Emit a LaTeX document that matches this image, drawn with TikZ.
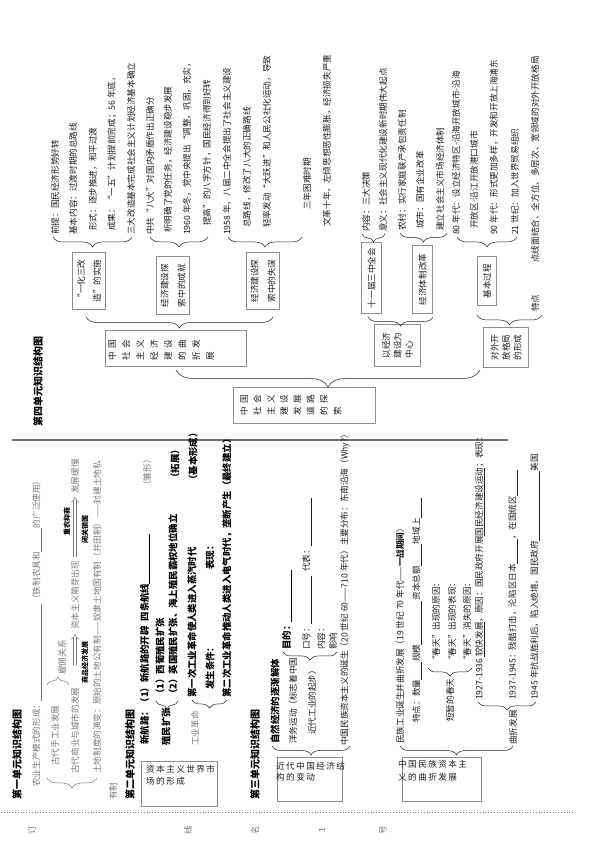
\documentclass[tikz,border=0pt]{standalone}
\usepackage{fontspec}
\setmainfont{Noto Sans CJK SC}
\usetikzlibrary{decorations.pathreplacing, arrows.meta}
\definecolor{Ink}{HTML}{1E1E1E}
\definecolor{Pale}{HTML}{7A7A7A}
\definecolor{Frame}{HTML}{8E8E8E}
\definecolor{Rule}{HTML}{6E6E6E}
\newcommand{\ls}{\hspace{4pt}}
\tikzset{
    txt/.style={anchor=west, inner sep=0pt, text=Ink, font=\fontsize{8.6}{10}\selectfont},
    pale/.style={txt, text=Pale},
    bold/.style={txt, text=black, font=\fontsize{9.4}{11}\selectfont\bfseries},
    head/.style={txt, text=black, font=\fontsize{10}{12}\selectfont\bfseries},
    tag/.style={inner sep=0pt, text=black, font=\fontsize{7}{8}\selectfont\bfseries},
    box/.style={rectangle, draw=Frame, line width=0.8pt, inner sep=0pt, text=Ink, align=left, font=\fontsize{8.6}{#1}\selectfont},
    box/.default=12,
    boxtext/.style={anchor=north west, inner sep=0pt, align=left, text=Ink, font=\fontsize{8.6}{#1}\selectfont},
    flat/.style={boxtext=#1, rotate=-90},
    curly/.style={decorate, decoration={brace, amplitude=#1}, draw=Ink, line width=0.5pt},
    hollow/.style={draw=Pale, line width=0.5pt, double=white, double distance=2.4pt, -{Implies}},
}

\begin{document}
\begin{tikzpicture}[x=1pt, y=1pt, rotate=90, transform shape]
    \fill[white] (0,0) rectangle (850,600);
    \useasboundingbox (0,0) rectangle (850,600);

    % Margine di rilegatura e divisorio
    \draw[Pale, dotted, line width=0.8pt] (38,27) -- (38,600);
    \foreach \c/\h in {订/568, 线/412, 名/345, 1/278, 号/217}
        \node[pale, anchor=center] at (20,\h) {\c};
    \draw[Rule, line width=1.6pt] (410,92) -- (410,588);

    % Unit 1
    \node[head] (h1) at (50,583) {第一单元知识结构图};
    \node[pale] (p1) at (63,563) {农业生产模式的形成：\underline{\hspace{97pt}}（铁制农具和\underline{\hspace{24pt}}的广泛使用）};
    \draw[curly=10pt, draw=Pale] (72,503) -- (72,553);
    \node[pale] (p2) at (84,545) {古代手工业发展};
    \node[pale] (p3) at (76,525) {古代商业与城市的发展};
    \draw[curly=8pt, draw=Pale] (165,553) -- (165,531);
    \node[pale] (hire) at (175,538) {雇佣关系};
    \node[pale] (sprout) at (220,525) {资本主义萌芽出现};
    \node[pale] (slow) at (356,525) {发展缓慢};
    \draw[hollow, shorten <=23pt, shorten >=4pt] (p3.east) -- (sprout.west);
    \draw[hollow, shorten <=4pt, shorten >=3pt] (sprout.east) -- (slow.west);
    \node[tag] (goods) at (187,515) {商品经济发展};
    \node[tag] (agri) at (328,533) {重农抑商};
    \node[tag] (seal) at (320,515) {闭关锁国};
    \node[pale] (p4) at (76,503) {土地制度的演变：原始的土地公有制——奴隶土地国有制（井田制）——封建土地私};
    \node[pale] (p5) at (50,487) {有制};

    % Unit 2
    \node[head] (h2) at (50,470) {第二单元知识结构图};
    \node[box, minimum width=45pt, minimum height=76pt, anchor=south west] (market) at (43,382) {};
    \node[flat=12] (marketT) at (85,454) {资\,本\,主\,义\,世\,界\,市\\场\,的\,形\,成};
    \node[bold] (g1) at (105,455) {新航路：（1）新航路的开辟\hspace{5pt}四条航线\underline{\hspace{50pt}}};
    \node[pale] (g1x) at (360,453) {（雏形）};
    \node[bold] (g2) at (104,434) {殖民扩张};
    \draw[curly=8pt] (149,422) -- (149,444);
    \node[bold] (g3) at (151,440) {（1）西葡殖民扩张};
    \node[bold] (g4) at (151,427) {（2）英国殖民扩张、海上殖民霸权地位确立};
    \node[bold] (g4x) at (367,425) {（拓展）};
    \node[pale] (g5) at (104,405) {工业革命};
    \draw[curly=8pt] (150,373) -- (150,408);
    \node[bold] (g6) at (152,408) {第一次工业革命使人类进入蒸汽时代};
    \node[bold] (g6x) at (365,407) {（基本形成）};
    \node[bold] (g7) at (160,390) {发生条件：};
    \node[bold] (g7x) at (280,390) {表现：};
    \node[bold] (g8) at (152,373) {第二次工业革命推动人类进入电气时代，垄断产生（最终建立）};

    % Unit 3
    \node[head] (h3) at (50,345) {第三单元知识结构图};
    \node[box, minimum width=44pt, minimum height=65pt, anchor=south west] (shift) at (48,257) {};
    \node[flat=11] (shiftT) at (88,324) {近\,代\,中\,国\,经\,济\,结\\构\,的\,变\,动};
    \draw[curly=9pt] (104,250) -- (104,328);
    \node[bold] (k1) at (106,325) {自然经济的逐渐解体};
    \node[txt] (k2) at (106,307) {洋务运动（标志着中国};
    \node[txt] (k3) at (115,288) {近代工业的起步）};
    \draw[curly=8pt] (198,263) -- (198,317);
    \node[bold] (k4) at (200,313) {目的：\underline{\hspace{52pt}}};
    \node[txt] (k5) at (200,293) {口号：\underline{\hspace{48pt}}\hspace{4pt}代表：\underline{\hspace{48pt}}};
    \node[txt] (k6) at (200,279) {内容：};
    \node[txt] (k7) at (200,267) {影响};
    \node[txt] (k8) at (104,255) {中国民族资本主义的诞生（20 世纪 60——710 年代）主要分布：东南沿海（Why?）};

    \node[box, minimum width=44pt, minimum height=79pt, anchor=south west] (bumpy) at (48,118) {};
    \node[flat=13] (bumpyT) at (90,202) {中\,国\,民\,族\,资\,本\,主\\义\,的\,曲\,折\,发\,展};
    \draw[curly=9pt] (104,87) -- (104,200);
    \node[txt] (m1) at (106,200) {民族工业诞生并曲折发展（19 世纪 70 年代——\textbf{一战期间}）};
    \node[txt] (m2) at (127,183) {特点：数量\underline{\hspace{18pt}}规模\underline{\hspace{44pt}}资本总额\underline{\hspace{22pt}}地域上\underline{\hspace{20pt}}};
    \node[txt] (m3) at (128,150) {短暂的春天};
    \draw[curly=8pt] (182,128) -- (182,172);
    \node[txt] (m4) at (185,164) {“春天”出现的原因：};
    \node[txt] (m5) at (185,148) {“春天”出现的表现：};
    \node[txt] (m6) at (185,133) {“春天”消失的原因：};
    \node[txt] (m7) at (105,87) {曲折发展};
    \draw[curly=8pt] (148,64) -- (148,122);
    \node[txt] (m8) at (150,120) {1927-1936 \underline{较快发展}，原因：国民政府开展\underline{国民经济建设运动}；表现：};
    \node[txt] (m9) at (150,87) {1937-1945：残酷打击，沦陷区日本\underline{\hspace{25pt}}，在国统区\underline{\hspace{26pt}}};
    \node[txt] (m10) at (150,65) {1945 年抗战胜利后，陷入绝境，国民政府\underline{\hspace{70pt}}美国};

    % Unit 4
    \node[head] (h4) at (423,562) {第四单元知识结构图};
    \node[box, minimum width=36pt, minimum height=142pt, anchor=south west] (root) at (426,224) {};
    \node[boxtext=13.3] (rootT) at (434,360) {中\ls 国\\社\ls 会\\主\ls 义\\建\ls 设\\发\ls 展\\道\ls 路\\的\ls 探\\索};
    \draw[curly=17pt] (480,120) -- (480,424);

    \node[box, minimum width=36pt, minimum height=141pt, anchor=south west] (ecoA) at (483,353) {};
    \node[boxtext=14] (ecoAT) at (489,492) {中\ls 国\\社\ls 会\\主\ls 义\\经\ls 济\\建\ls 设\\的\ls 曲\\折\ls 发\\展};
    \node[box=11.5, minimum width=42pt, minimum height=46pt, anchor=south west] (ecoB) at (483,179) {以经济\\建设为\\中心};
    \node[box=11.5, minimum width=40pt, minimum height=45pt, anchor=south west] (ecoC) at (482,71) {对外开\\放格局\\的形成};
    \draw[curly=11pt] (533,327) -- (533,514);
    \draw[curly=9pt] (533,167) -- (533,232);
    \draw[curly=10pt] (535,58) -- (535,123);

    \node[box=16, minimum width=57pt, minimum height=33pt, anchor=south west] (ecoA1) at (540,494) {“一化三改\\造”的实施};
    \node[box=17, minimum width=58pt, minimum height=33pt, anchor=south west] (ecoA2) at (535,410) {经济建设探\\索中的成就};
    \node[box=17, minimum width=57pt, minimum height=33pt, anchor=south west] (ecoA3) at (540,320) {经济建设探\\索中的失误};
    \node[box, minimum width=71pt, minimum height=20pt, anchor=south west] (ecoB1) at (536,218) {十一届三中全会};
    \node[box, minimum width=68pt, minimum height=20pt, anchor=south west] (ecoB2) at (536,167) {经济体制改革};
    \node[box, minimum width=49pt, minimum height=19pt, anchor=south west] (ecoC1) at (544,103) {基本过程};
    \node[txt] (trait) at (538,65) {特点};

    \draw[curly=10pt] (613,468) -- (613,547);
    \draw[curly=10pt] (613,392) -- (613,450);
    \draw[curly=10pt] (613,298) -- (613,372);
    \draw[curly=8pt] (616,215) -- (616,238);
    \draw[curly=9pt] (617,153) -- (617,200);
    \draw[curly=10pt] (613,83) -- (613,143);

    \node[txt] (a1) at (615,545) {前提：国民经济形势好转};
    \node[txt] (a2) at (615,527) {基本内容：过渡时期的总路线};
    \node[txt] (a3) at (619,507) {形式：逐步推进，和平过渡};
    \node[txt] (a4) at (619,488) {成果：“一五”计划提前完成；56 年底，};
    \node[txt] (a5) at (615,469) {三大改造基本完成社会主义计划经济基本确立};
    \node[txt] (b1) at (615,450) {中共“八大”对国内矛盾作出正确分};
    \node[txt] (b2) at (617,432) {析明确了党的任务，经济建设稳步发展};
    \node[txt] (b3) at (615,413) {1960 年冬，党中央提出“调整，巩固，充实，};
    \node[txt] (b4) at (624,393) {提高”的八字方针，国民经济得到好转};
    \node[txt] (c1) at (615,373) {1958 年，八届二中全会提出了社会主义建设};
    \node[txt] (c2) at (622,353) {总路线，修改了八大的正确路线};
    \node[txt] (c3) at (622,333) {轻率发动“大跃进”和人民公社化运动，导致};
    \node[txt] (c4) at (640,293) {三年困难时期};
    \node[txt] (c5) at (623,273) {文革十年，左倾思想恶性膨胀，经济损失严重};
    \node[txt] (d1) at (618,234) {内容：三大决策};
    \node[txt] (d2) at (618,217) {意义：社会主义现代化建设新时期伟大起点};
    \node[txt] (e1) at (619,198) {农村：实行家庭联产承包责任制};
    \node[txt] (e2) at (621,180) {城市：国有企业改革};
    \node[txt] (e3) at (619,160) {建立社会主义市场经济体制};
    \node[txt] (f1) at (615,144) {80 年代：设立经济特区-沿海开放城市-沿海};
    \node[txt] (f2) at (621,126) {开放区-沿江开放港口城市};
    \node[txt] (f3) at (615,106) {90 年代：形式更加多样，开发和开放上海浦东};
    \node[txt] (f4) at (615,85) {21 世纪：加入世界贸易组织};
    \node[txt] (f5) at (587,65) {点线面结合、全方位、多层次、宽领域的对外开放格局};
\end{tikzpicture}
\end{document}
